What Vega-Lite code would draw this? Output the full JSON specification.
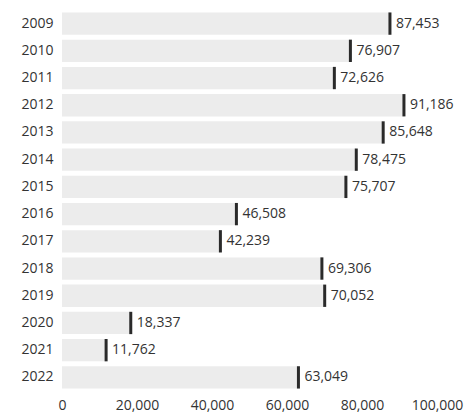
{
  "$schema": "https://vega.github.io/schema/vega-lite/v6.json",
  "autosize": "none",
  "width": 375,
  "height": 381,
  "padding": {"left": 62, "top": 10, "right": 33, "bottom": 26},
  "background": "white",
  "config": {"view": {"stroke": null}, "font": "Open Sans"},
  "data": {"values": [
    {"year": "2009", "value": 87453},
    {"year": "2010", "value": 76907},
    {"year": "2011", "value": 72626},
    {"year": "2012", "value": 91186},
    {"year": "2013", "value": 85648},
    {"year": "2014", "value": 78475},
    {"year": "2015", "value": 75707},
    {"year": "2016", "value": 46508},
    {"year": "2017", "value": 42239},
    {"year": "2018", "value": 69306},
    {"year": "2019", "value": 70052},
    {"year": "2020", "value": 18337},
    {"year": "2021", "value": 11762},
    {"year": "2022", "value": 63049}
  ]},
  "encoding": {
    "y": {"field": "year", "type": "nominal", "sort": null,
      "scale": {"paddingInner": 0.18, "paddingOuter": 0.09},
      "axis": {"title": null, "ticks": false, "domain": false, "labelPadding": 9, "labelFontSize": 14, "labelColor": "#333", "labelFont": "Open Sans"}},
    "x": {"field": "value", "type": "quantitative",
      "scale": {"domain": [0, 100000], "nice": false},
      "axis": {"title": null, "grid": false, "domain": false, "ticks": false, "values": [0, 20000, 40000, 60000, 80000, 100000], "labelExpr": "format(datum.value, ',')", "labelPadding": 7, "labelFontSize": 14, "labelColor": "#333", "labelFlush": false, "labelOverlap": false, "labelFont": "Open Sans"}}
  },
  "layer": [
    {
      "mark": {"type": "bar", "color": "#ececec"}
    },
    {
      "mark": {"type": "tick", "color": "#2a2a2a", "opacity": 1, "thickness": 3, "bandSize": 24}
    },
    {
      "mark": {"type": "text", "align": "left", "baseline": "middle", "dx": 6, "fontSize": 14, "color": "#333", "font": "Open Sans"},
      "encoding": {
        "text": {"field": "value", "type": "quantitative", "format": ","}
      }
    }
  ]
}
